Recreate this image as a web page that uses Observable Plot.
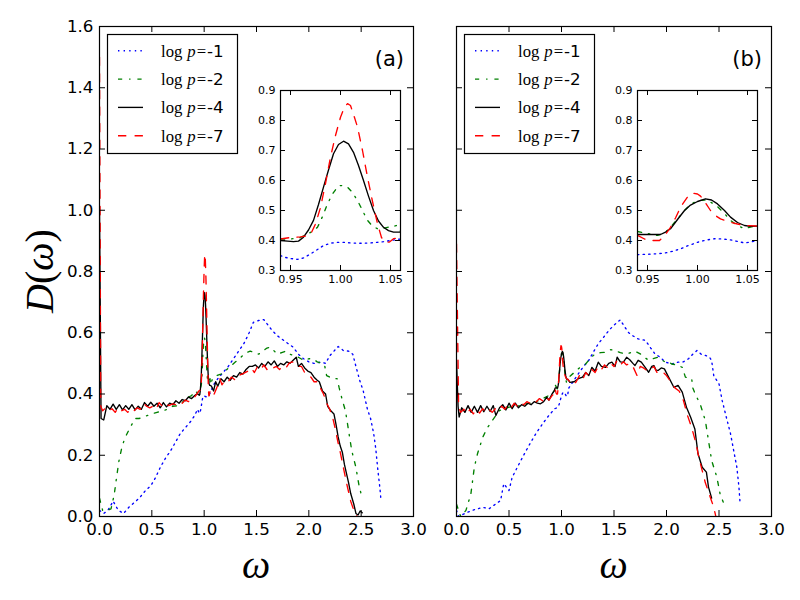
<!DOCTYPE html>
<html><head><meta charset="utf-8">
<script src="https://cdn.jsdelivr.net/npm/d3@7"></script>
<script src="https://cdn.jsdelivr.net/npm/@observablehq/plot@0.6"></script>
<style>
body{margin:0;background:#fff;}
#wrap{position:relative;width:800px;height:600px;overflow:hidden;background:#fff;}
#wrap > svg{position:absolute;}
</style></head><body><div id="wrap"></div>
<script>
// ---------- ticks & labels ----------
const xTicks = [0, 0.5, 1.0, 1.5, 2.0, 2.5, 3.0];
const yTicks = [0, 0.2, 0.4, 0.6, 0.8, 1.0, 1.2, 1.4, 1.6];
const insetXTicks = [0.95, 1.00, 1.05];
const insetYTicks = [0.3, 0.4, 0.5, 0.6, 0.7, 0.8, 0.9];
const seriesKeys = ["blue", "green", "black", "red"];
const seriesLabels = ["-1", "-2", "-4", "-7"];
const seriesColors = ["#0000ff", "#008000", "#000000", "#ff0000"];
const seriesDash = ["1.4,4.2", "4.2,6.9,1.4,6.9", null, "8.3,8.3"];
const panelTags = ["(a)", "(b)"];

// ---------- panel (a), broad range (outside 0.94..1.06) ----------
const aBlue = [[0,0.02],[0.04,0.01],[0.08,0.02],[0.13,0.05],[0.18,0.02],[0.23,0.01],[0.28,0.03],[0.33,0.045],[0.38,0.06],[0.44,0.085],[0.49,0.10],[0.54,0.13],[0.58,0.16],[0.63,0.19],[0.68,0.215],[0.73,0.245],[0.77,0.27],[0.82,0.29],[0.87,0.31],[0.91,0.33],[0.93,0.345],
 [1.09,0.43],[1.13,0.45],[1.18,0.47],[1.23,0.49],[1.28,0.515],[1.33,0.54],[1.38,0.565],[1.43,0.60],[1.47,0.634],[1.52,0.64],[1.57,0.643],[1.61,0.625],[1.65,0.607],[1.70,0.59],[1.76,0.575],[1.80,0.565],[1.85,0.553],[1.90,0.53],[1.95,0.515],[2.00,0.505],[2.05,0.50],[2.11,0.504],[2.16,0.50],[2.20,0.525],[2.24,0.54],[2.28,0.555],[2.33,0.542],[2.38,0.54],[2.42,0.53],[2.45,0.49],[2.49,0.44],[2.52,0.41],[2.56,0.35],[2.59,0.32],[2.62,0.27],[2.64,0.22],[2.66,0.15],[2.68,0.09],[2.69,0.05]];
const aGreen = [[0,0.06],[0.03,0.02],[0.07,0.02],[0.11,0.025],[0.14,0.07],[0.16,0.12],[0.185,0.18],[0.21,0.22],[0.24,0.255],[0.27,0.275],[0.30,0.295],[0.34,0.32],[0.38,0.32],[0.42,0.325],[0.46,0.33],[0.50,0.335],[0.55,0.34],[0.60,0.345],[0.65,0.35],[0.70,0.36],[0.75,0.362],[0.80,0.375],[0.85,0.39],[0.88,0.395],[0.91,0.41],[0.93,0.405],
 [1.08,0.45],[1.12,0.46],[1.16,0.465],[1.20,0.475],[1.25,0.49],[1.30,0.505],[1.35,0.52],[1.40,0.535],[1.44,0.54],[1.48,0.535],[1.52,0.53],[1.56,0.54],[1.60,0.55],[1.63,0.553],[1.67,0.54],[1.70,0.53],[1.74,0.535],[1.78,0.54],[1.82,0.53],[1.86,0.525],[1.90,0.52],[1.95,0.51],[2.00,0.515],[2.04,0.515],[2.08,0.505],[2.12,0.50],[2.15,0.495],[2.17,0.46],[2.20,0.455],[2.24,0.45],[2.27,0.45],[2.29,0.42],[2.32,0.38],[2.35,0.345],[2.38,0.28],[2.41,0.215],[2.45,0.16],[2.48,0.10],[2.51,0.06]];
const aBlack = [[0,1.0],[0.015,0.32],[0.04,0.315],[0.07,0.362],[0.10,0.35],[0.13,0.367],[0.16,0.35],[0.19,0.365],[0.22,0.348],[0.25,0.362],[0.28,0.35],[0.31,0.365],[0.34,0.348],[0.37,0.36],[0.40,0.35],[0.43,0.372],[0.46,0.36],[0.49,0.373],[0.52,0.36],[0.55,0.37],[0.58,0.355],[0.61,0.372],[0.64,0.358],[0.67,0.37],[0.70,0.365],[0.73,0.378],[0.76,0.37],[0.79,0.382],[0.82,0.378],[0.85,0.39],[0.88,0.385],[0.91,0.395],[0.93,0.40],
 [1.07,0.425],[1.09,0.41],[1.11,0.44],[1.13,0.425],[1.16,0.45],[1.19,0.44],[1.22,0.455],[1.25,0.445],[1.28,0.46],[1.31,0.455],[1.34,0.47],[1.37,0.465],[1.40,0.48],[1.43,0.49],[1.46,0.49],[1.49,0.495],[1.52,0.485],[1.55,0.50],[1.58,0.49],[1.61,0.505],[1.64,0.495],[1.67,0.508],[1.70,0.49],[1.73,0.50],[1.76,0.495],[1.79,0.505],[1.82,0.50],[1.85,0.51],[1.88,0.52],[1.90,0.49],[1.93,0.50],[1.96,0.485],[1.99,0.475],[2.02,0.47],[2.05,0.455],[2.08,0.445],[2.10,0.44],[2.13,0.41],[2.16,0.40],[2.18,0.36],[2.21,0.345],[2.24,0.335],[2.26,0.30],[2.28,0.26],[2.30,0.23],[2.32,0.21],[2.34,0.17],[2.36,0.14],[2.38,0.11],[2.40,0.075],[2.43,0.04],[2.45,0.01],[2.47,0.005],[2.49,0.018],[2.51,0.012]];
const aRed = [[0,1.5],[0.012,0.36],[0.03,0.345],[0.06,0.355],[0.09,0.345],[0.12,0.352],[0.15,0.34],[0.18,0.355],[0.21,0.345],[0.24,0.35],[0.27,0.34],[0.30,0.352],[0.33,0.345],[0.36,0.355],[0.39,0.35],[0.42,0.37],[0.45,0.36],[0.48,0.355],[0.51,0.36],[0.54,0.35],[0.57,0.372],[0.60,0.36],[0.63,0.37],[0.66,0.362],[0.70,0.368],[0.73,0.365],[0.76,0.375],[0.79,0.37],[0.82,0.38],[0.85,0.375],[0.88,0.388],[0.91,0.39],[0.93,0.40],
 [1.07,0.40],[1.09,0.395],[1.12,0.42],[1.15,0.45],[1.17,0.43],[1.20,0.445],[1.23,0.44],[1.26,0.455],[1.30,0.445],[1.33,0.46],[1.36,0.465],[1.39,0.47],[1.42,0.475],[1.45,0.485],[1.48,0.47],[1.51,0.49],[1.54,0.48],[1.57,0.495],[1.60,0.48],[1.63,0.49],[1.66,0.485],[1.69,0.49],[1.72,0.48],[1.75,0.49],[1.78,0.485],[1.81,0.50],[1.84,0.505],[1.87,0.50],[1.90,0.49],[1.93,0.49],[1.96,0.47],[1.99,0.46],[2.02,0.455],[2.05,0.44],[2.08,0.44],[2.11,0.42],[2.14,0.40],[2.17,0.37],[2.20,0.35],[2.23,0.32],[2.25,0.29],[2.28,0.24],[2.30,0.21],[2.33,0.16],[2.36,0.11],[2.38,0.08],[2.40,0.05],[2.43,0.02],[2.46,0.0]];

// ---------- panel (a), zoom 0.94..1.06 ----------
const aInsBlue = [[0.94,0.35],[0.943,0.345],[0.95,0.34],[0.957,0.337],[0.963,0.342],[0.97,0.355],[0.977,0.37],[0.983,0.383],[0.99,0.391],[0.997,0.394],[1.003,0.394],[1.01,0.392],[1.017,0.391],[1.023,0.391],[1.03,0.392],[1.037,0.394],[1.043,0.396],[1.05,0.40],[1.06,0.405]];
const aInsGreen = [[0.94,0.405],[0.95,0.405],[0.96,0.41],[0.967,0.422],[0.972,0.43],[0.977,0.444],[0.982,0.48],[0.987,0.522],[0.992,0.555],[0.998,0.583],[1.003,0.583],[1.007,0.578],[1.012,0.56],[1.017,0.533],[1.022,0.50],[1.027,0.467],[1.032,0.448],[1.037,0.439],[1.042,0.44],[1.047,0.444],[1.053,0.447],[1.056,0.45],[1.06,0.43]];
const aInsBlack = [[0.94,0.40],[0.947,0.398],[0.953,0.396],[0.958,0.398],[0.963,0.411],[0.968,0.435],[0.973,0.467],[0.978,0.52],[0.983,0.578],[0.988,0.635],[0.993,0.689],[0.998,0.72],[1.003,0.731],[1.008,0.722],[1.013,0.694],[1.018,0.65],[1.023,0.60],[1.028,0.548],[1.033,0.50],[1.038,0.465],[1.043,0.444],[1.048,0.433],[1.053,0.428],[1.06,0.428]];
const aInsRed = [[0.94,0.405],[0.95,0.41],[0.96,0.412],[0.965,0.415],[0.97,0.42],[0.975,0.455],[0.98,0.51],[0.985,0.59],[0.99,0.678],[0.995,0.75],[1.0,0.811],[1.004,0.845],[1.007,0.856],[1.01,0.85],[1.014,0.81],[1.017,0.778],[1.022,0.70],[1.027,0.611],[1.032,0.53],[1.037,0.456],[1.041,0.41],[1.045,0.394],[1.049,0.395],[1.053,0.406],[1.06,0.41]];

// ---------- panel (b), broad range ----------
const bBlue = [[0,0.02],[0.02,0.0],[0.08,0.01],[0.15,0.02],[0.20,0.025],[0.25,0.03],[0.31,0.025],[0.37,0.04],[0.42,0.052],[0.45,0.107],[0.50,0.085],[0.53,0.128],[0.58,0.161],[0.63,0.194],[0.69,0.232],[0.755,0.27],[0.82,0.303],[0.88,0.33],[0.93,0.35],
 [1.07,0.42],[1.11,0.44],[1.16,0.466],[1.21,0.49],[1.26,0.51],[1.30,0.535],[1.35,0.564],[1.40,0.585],[1.45,0.607],[1.50,0.625],[1.56,0.642],[1.60,0.62],[1.64,0.60],[1.68,0.59],[1.73,0.58],[1.80,0.575],[1.85,0.55],[1.89,0.531],[1.94,0.52],[1.99,0.504],[2.05,0.498],[2.11,0.504],[2.16,0.505],[2.21,0.515],[2.25,0.53],[2.29,0.542],[2.33,0.53],[2.37,0.526],[2.41,0.52],[2.43,0.509],[2.45,0.46],[2.50,0.433],[2.53,0.379],[2.57,0.324],[2.61,0.27],[2.64,0.215],[2.67,0.161],[2.69,0.096],[2.70,0.047]];
const bGreen = [[0,0.04],[0.04,0.0],[0.09,0.02],[0.137,0.074],[0.17,0.161],[0.20,0.205],[0.25,0.259],[0.295,0.29],[0.34,0.313],[0.41,0.346],[0.50,0.357],[0.58,0.36],[0.66,0.368],[0.73,0.372],[0.79,0.379],[0.85,0.39],[0.91,0.40],[0.93,0.41],
 [1.07,0.455],[1.12,0.47],[1.17,0.485],[1.23,0.498],[1.27,0.515],[1.32,0.531],[1.37,0.535],[1.42,0.536],[1.47,0.545],[1.51,0.542],[1.56,0.535],[1.61,0.531],[1.66,0.535],[1.70,0.54],[1.75,0.531],[1.79,0.52],[1.83,0.51],[1.87,0.515],[1.92,0.52],[1.96,0.51],[1.99,0.504],[2.02,0.505],[2.05,0.498],[2.10,0.495],[2.15,0.487],[2.18,0.455],[2.21,0.452],[2.24,0.45],[2.25,0.42],[2.28,0.395],[2.32,0.368],[2.37,0.313],[2.40,0.248],[2.43,0.183],[2.48,0.128],[2.51,0.074],[2.54,0.047]];
const bBlack = [[0,0.51],[0.015,0.36],[0.025,0.325],[0.05,0.355],[0.08,0.34],[0.11,0.362],[0.14,0.34],[0.17,0.36],[0.20,0.34],[0.23,0.362],[0.26,0.342],[0.29,0.36],[0.32,0.343],[0.35,0.362],[0.375,0.33],[0.41,0.355],[0.44,0.365],[0.47,0.348],[0.50,0.37],[0.53,0.352],[0.56,0.37],[0.59,0.355],[0.62,0.365],[0.65,0.36],[0.68,0.37],[0.71,0.365],[0.74,0.375],[0.77,0.37],[0.80,0.368],[0.83,0.375],[0.86,0.39],[0.88,0.38],[0.91,0.40],[0.93,0.41],
 [1.08,0.438],[1.12,0.44],[1.16,0.45],[1.20,0.455],[1.23,0.47],[1.26,0.46],[1.29,0.487],[1.32,0.475],[1.35,0.504],[1.38,0.49],[1.42,0.487],[1.45,0.50],[1.48,0.504],[1.51,0.49],[1.53,0.52],[1.56,0.505],[1.59,0.504],[1.62,0.52],[1.65,0.512],[1.68,0.50],[1.70,0.493],[1.73,0.51],[1.76,0.504],[1.79,0.49],[1.83,0.471],[1.86,0.49],[1.88,0.493],[1.90,0.478],[1.92,0.477],[1.95,0.485],[1.98,0.482],[2.02,0.455],[2.07,0.422],[2.11,0.428],[2.15,0.406],[2.19,0.357],[2.23,0.324],[2.27,0.286],[2.30,0.205],[2.34,0.161],[2.38,0.145],[2.40,0.096],[2.43,0.06]];
const bRed = [[0,0.89],[0.02,0.36],[0.04,0.34],[0.07,0.35],[0.10,0.335],[0.13,0.35],[0.16,0.335],[0.19,0.35],[0.22,0.338],[0.25,0.352],[0.28,0.34],[0.31,0.35],[0.34,0.34],[0.37,0.352],[0.40,0.345],[0.43,0.36],[0.46,0.35],[0.49,0.365],[0.52,0.355],[0.55,0.37],[0.58,0.36],[0.61,0.372],[0.64,0.365],[0.67,0.375],[0.70,0.37],[0.73,0.38],[0.76,0.375],[0.79,0.385],[0.82,0.378],[0.85,0.392],[0.88,0.38],[0.91,0.395],[0.93,0.40],
 [1.08,0.44],[1.11,0.43],[1.14,0.44],[1.17,0.46],[1.20,0.445],[1.23,0.47],[1.26,0.46],[1.29,0.48],[1.32,0.47],[1.35,0.49],[1.38,0.48],[1.41,0.495],[1.44,0.485],[1.47,0.50],[1.50,0.49],[1.53,0.51],[1.56,0.495],[1.59,0.505],[1.62,0.495],[1.65,0.50],[1.68,0.49],[1.72,0.46],[1.75,0.49],[1.78,0.485],[1.82,0.475],[1.85,0.48],[1.88,0.49],[1.91,0.47],[1.94,0.475],[1.97,0.47],[2.00,0.46],[2.04,0.44],[2.08,0.42],[2.12,0.41],[2.16,0.38],[2.20,0.33],[2.24,0.29],[2.28,0.24],[2.31,0.19],[2.34,0.15],[2.37,0.11],[2.40,0.08],[2.43,0.05],[2.45,0.03],[2.47,0.0]];

// ---------- panel (b), zoom 0.94..1.06 ----------
const bInsBlue = [[0.94,0.353],[0.95,0.354],[0.96,0.356],[0.967,0.358],[0.975,0.364],[0.983,0.372],[0.99,0.382],[1.0,0.394],[1.008,0.401],[1.017,0.406],[1.025,0.405],[1.033,0.402],[1.04,0.397],[1.047,0.392],[1.053,0.395],[1.06,0.40]];
const bInsGreen = [[0.94,0.43],[0.95,0.423],[0.96,0.417],[0.967,0.425],[0.973,0.444],[0.98,0.472],[0.987,0.50],[0.993,0.52],[1.0,0.533],[1.01,0.535],[1.02,0.513],[1.027,0.49],[1.033,0.467],[1.04,0.45],[1.047,0.439],[1.053,0.445],[1.06,0.45]];
const bInsBlack = [[0.94,0.42],[0.95,0.42],[0.963,0.42],[0.968,0.428],[0.973,0.439],[0.98,0.47],[0.987,0.50],[0.993,0.518],[1.0,0.53],[1.008,0.539],[1.014,0.535],[1.02,0.522],[1.027,0.50],[1.033,0.478],[1.04,0.46],[1.047,0.45],[1.053,0.447],[1.06,0.448]];
const bInsRed = [[0.94,0.417],[0.947,0.405],[0.953,0.40],[0.962,0.40],[0.968,0.42],[0.973,0.444],[0.978,0.475],[0.983,0.511],[0.99,0.545],[0.995,0.558],[1.0,0.555],[1.003,0.548],[1.008,0.525],[1.013,0.50],[1.018,0.483],[1.023,0.472],[1.033,0.461],[1.04,0.455],[1.047,0.45],[1.06,0.448]];

// ---------- build tables ----------
const toRows = (pairs) => pairs.map(([w, d]) => ({w, d}));
const merge = (outer, inner) => toRows([...outer, ...inner].sort((p, q) => p[0] - q[0]));
const panels = [
  {main: [merge(aBlue, aInsBlue), merge(aGreen, aInsGreen), merge(aBlack, aInsBlack), merge(aRed, aInsRed)],
   inset: [toRows(aInsBlue), toRows(aInsGreen), toRows(aInsBlack), toRows(aInsRed)]},
  {main: [merge(bBlue, bInsBlue), merge(bGreen, bInsGreen), merge(bBlack, bInsBlack), merge(bRed, bInsRed)],
   inset: [toRows(bInsBlue), toRows(bInsGreen), toRows(bInsBlack), toRows(bInsRed)]}
];

const wrap = document.getElementById("wrap");
const LW = 1.35;

function seriesMarks(list) {
  return list.map((rows, i) => Plot.line(rows, {
    x: "w", y: "d", stroke: seriesColors[i], strokeWidth: LW,
    strokeDasharray: seriesDash[i] || undefined, strokeLinejoin: "round"
  }));
}

function mainPanel(p, cfg) {
  const H = 600, mT = 26, mB = 84;
  const innerW = cfg.width - cfg.mL - cfg.mR, innerH = H - mT - mB, t = 6;
  const marks = [
    ...seriesMarks(panels[p].main),
    Plot.ruleX(xTicks, {x: d => d, insetTop: innerH - t, stroke: "black"}),
    Plot.ruleX(xTicks, {x: d => d, insetBottom: innerH - t, stroke: "black"}),
    Plot.ruleY(yTicks, {y: d => d, insetRight: innerW - t, stroke: "black"}),
    Plot.ruleY(yTicks, {y: d => d, insetLeft: innerW - t, stroke: "black"}),
    Plot.frame({stroke: "black", strokeWidth: 1.2}),
    Plot.axisX({ticks: xTicks, tickSize: 0, tickPadding: 7, tickFormat: d3.format(".1f"), label: null}),
    Plot.text([panelTags[p]], {frameAnchor: "top-right", dx: -9.5, dy: 24.5, fontSize: 21, textAnchor: "end", fill: "black"})
  ];
  if (cfg.showY) marks.push(Plot.axisY({ticks: yTicks, tickSize: 0, tickPadding: 6, tickFormat: d3.format(".1f"), label: null}));
  const svg = Plot.plot({
    width: cfg.width, height: H,
    marginLeft: cfg.mL, marginRight: cfg.mR, marginTop: mT, marginBottom: mB,
    x: {domain: [0, 3], axis: null},
    y: {domain: [0, 1.6], axis: null},
    clip: true,
    style: {background: "transparent", fontFamily: "'DejaVu Sans', sans-serif", fontSize: "16.7px", color: "black"},
    marks
  });
  svg.style.left = cfg.left + "px";
  svg.style.top = "0px";
  wrap.appendChild(svg);
}

function insetPanel(p, left) {
  const W = 170, H = 240, mL = 40, mR = 10, mT = 30, mB = 30, t = 5;
  const innerW = W - mL - mR, innerH = H - mT - mB;
  const svg = Plot.plot({
    width: W, height: H, marginLeft: mL, marginRight: mR, marginTop: mT, marginBottom: mB,
    x: {domain: [0.94, 1.06], axis: null},
    y: {domain: [0.3, 0.9], axis: null},
    clip: true,
    style: {background: "transparent", fontFamily: "'DejaVu Sans', sans-serif", fontSize: "11px", color: "black"},
    marks: [
      Plot.frame({fill: "white"}),
      ...seriesMarks(panels[p].inset),
      Plot.ruleX(insetXTicks, {x: d => d, insetTop: innerH - t, stroke: "black"}),
      Plot.ruleX(insetXTicks, {x: d => d, insetBottom: innerH - t, stroke: "black"}),
      Plot.ruleY(insetYTicks, {y: d => d, insetRight: innerW - t, stroke: "black"}),
      Plot.ruleY(insetYTicks, {y: d => d, insetLeft: innerW - t, stroke: "black"}),
      Plot.frame({stroke: "black", strokeWidth: 1.2}),
      Plot.axisX({ticks: insetXTicks, tickSize: 0, tickPadding: 5, tickFormat: d3.format(".2f"), label: null}),
      Plot.axisY({ticks: insetYTicks, tickSize: 0, tickPadding: 5, tickFormat: d3.format(".1f"), label: null})
    ]
  });
  svg.style.left = left + "px";
  svg.style.top = "60px";
  wrap.appendChild(svg);
}

mainPanel(0, {left: 0, width: 430, mL: 99, mR: 17, showY: true});
mainPanel(1, {left: 430, width: 370, mL: 26, mR: 29, showY: false});
insetPanel(0, 240);
insetPanel(1, 597);

// ---------- overlay: legends and axis titles ----------
const ov = d3.create("svg").attr("width", 800).attr("height", 600)
  .style("left", "0px").style("top", "0px").style("pointer-events", "none");
const serif = "'Liberation Serif', 'DejaVu Serif', serif";

[107, 464].forEach((x0) => {
  const g = ov.append("g");
  g.append("rect").attr("x", x0 + 0.5).attr("y", 34.5).attr("width", 130).attr("height", 119)
    .attr("fill", "white").attr("stroke", "black").attr("stroke-width", 1.2);
  seriesLabels.forEach((lab, i) => {
    const y = 50.7 + i * 28.35;
    g.append("line").attr("x1", x0 + 11).attr("x2", x0 + 36).attr("y1", y).attr("y2", y)
      .attr("stroke", seriesColors[i]).attr("stroke-width", LW)
      .attr("stroke-dasharray", seriesDash[i]);
    const t = g.append("text").attr("x", x0 + 54).attr("y", y + 6).attr("font-size", 16.7).attr("fill", "black");
    t.append("tspan").attr("font-family", serif).text("log");
    t.append("tspan").attr("dx", 5).attr("font-family", serif).attr("font-style", "italic").text("p");
    t.append("tspan").attr("dx", 1).attr("font-family", serif).text("=");
    t.append("tspan").attr("dx", 1).attr("font-family", "'DejaVu Sans', sans-serif").text(lab);
  });
});

// y-axis title
const yt = ov.append("text").attr("transform", "translate(53,271) rotate(-90)")
  .attr("text-anchor", "middle").attr("font-family", serif).attr("font-size", 40).attr("fill", "black");
yt.append("tspan").attr("font-style", "italic").text("D");
yt.append("tspan").text("(");
yt.append("tspan").attr("font-style", "italic").text("ω");
yt.append("tspan").text(")");
// x-axis titles
[256, 613.5].forEach((cx) => {
  ov.append("text").attr("x", cx).attr("y", 578).attr("text-anchor", "middle")
    .attr("font-family", serif).attr("font-style", "italic").attr("font-size", 40).attr("fill", "black").text("ω");
});
wrap.appendChild(ov.node());
</script></body></html>
